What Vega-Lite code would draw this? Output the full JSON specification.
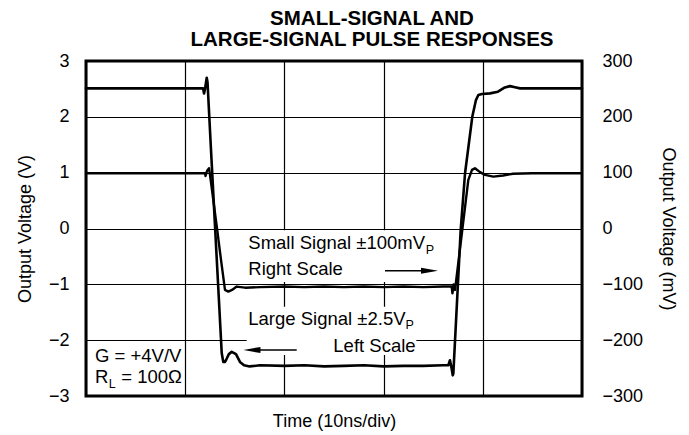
{
  "$schema": "https://vega.github.io/schema/vega-lite/v6.json",
  "width": 496,
  "height": 335,
  "autosize": {"type": "none"},
  "padding": {"left": 86, "top": 61, "right": 107, "bottom": 39},
  "background": "white",
  "title": {
    "text": ["SMALL-SIGNAL AND", "LARGE-SIGNAL PULSE RESPONSES"],
    "font": "Liberation Sans",
    "fontSize": 20.5,
    "fontWeight": "bold",
    "lineHeight": 21,
    "anchor": "middle",
    "dx": 38,
    "offset": 2,
    "color": "black"
  },
  "config": {
    "font": "Liberation Sans",
    "view": {"stroke": "black", "strokeWidth": 3},
    "axis": {
      "labelFont": "Liberation Sans",
      "labelFontSize": 18,
      "labelColor": "black",
      "titleFont": "Liberation Sans",
      "titleFontSize": 18,
      "titleFontWeight": "normal",
      "titleColor": "black",
      "gridColor": "black",
      "gridOpacity": 1,
      "gridWidth": 1.2,
      "ticks": false,
      "domain": false
    }
  },
  "datasets": {
    "large": [
      {"t": 0, "v": 2.51}, {"t": 5, "v": 2.51}, {"t": 10, "v": 2.51}, {"t": 11.8, "v": 2.51},
      {"t": 11.9, "v": 2.42}, {"t": 12.0, "v": 2.5}, {"t": 12.1, "v": 2.62}, {"t": 12.17, "v": 2.7},
      {"t": 12.25, "v": 2.62}, {"t": 12.6, "v": 1.41}, {"t": 13.0, "v": 0.06}, {"t": 13.4, "v": -1.28},
      {"t": 13.68, "v": -2.23}, {"t": 13.84, "v": -2.39}, {"t": 14.0, "v": -2.39}, {"t": 14.11, "v": -2.36},
      {"t": 14.4, "v": -2.25}, {"t": 14.69, "v": -2.21}, {"t": 15.12, "v": -2.25}, {"t": 15.52, "v": -2.39},
      {"t": 15.93, "v": -2.45}, {"t": 16.5, "v": -2.47}, {"t": 17.54, "v": -2.45}, {"t": 20, "v": -2.46},
      {"t": 22, "v": -2.45}, {"t": 24, "v": -2.47}, {"t": 26, "v": -2.46}, {"t": 28, "v": -2.45},
      {"t": 30, "v": -2.47}, {"t": 32, "v": -2.46}, {"t": 34, "v": -2.46}, {"t": 36, "v": -2.45},
      {"t": 36.52, "v": -2.45}, {"t": 36.69, "v": -2.36}, {"t": 36.85, "v": -2.5}, {"t": 36.97, "v": -2.63},
      {"t": 37.03, "v": -2.6}, {"t": 37.77, "v": -0.03}, {"t": 38.21, "v": 0.99}, {"t": 38.94, "v": 2.0},
      {"t": 39.31, "v": 2.3}, {"t": 39.55, "v": 2.39}, {"t": 39.92, "v": 2.41}, {"t": 40.73, "v": 2.42},
      {"t": 41.53, "v": 2.45}, {"t": 42.14, "v": 2.52}, {"t": 42.74, "v": 2.55}, {"t": 43.25, "v": 2.53},
      {"t": 43.75, "v": 2.51}, {"t": 47, "v": 2.51}, {"t": 50, "v": 2.51}
    ],
    "small": [
      {"t": 0, "mv": 99}, {"t": 6, "mv": 99}, {"t": 12.0, "mv": 99}, {"t": 12.05, "mv": 94},
      {"t": 12.2, "mv": 103}, {"t": 12.4, "mv": 108}, {"t": 12.5, "mv": 96}, {"t": 13.23, "mv": -3},
      {"t": 13.6, "mv": -55}, {"t": 14.01, "mv": -110}, {"t": 14.35, "mv": -113}, {"t": 14.72, "mv": -110},
      {"t": 15.19, "mv": -104}, {"t": 15.6, "mv": -105}, {"t": 16.03, "mv": -106}, {"t": 17.54, "mv": -105},
      {"t": 20, "mv": -104}, {"t": 22, "mv": -105}, {"t": 24, "mv": -104}, {"t": 26, "mv": -105},
      {"t": 28, "mv": -104}, {"t": 30, "mv": -105}, {"t": 32, "mv": -104}, {"t": 34, "mv": -105},
      {"t": 36, "mv": -104}, {"t": 36.86, "mv": -104}, {"t": 36.94, "mv": -116}, {"t": 37.05, "mv": -100},
      {"t": 37.2, "mv": -110}, {"t": 37.93, "mv": -3}, {"t": 38.54, "mv": 87}, {"t": 38.91, "mv": 105},
      {"t": 39.21, "mv": 108}, {"t": 39.72, "mv": 101}, {"t": 40.22, "mv": 96}, {"t": 41.06, "mv": 93},
      {"t": 42.04, "mv": 95}, {"t": 43.04, "mv": 98}, {"t": 45, "mv": 99}, {"t": 50, "mv": 99}
    ],
    "boxes": [
      {"t": 16.03, "t2": 35.79, "v": -0.03, "v2": -0.96},
      {"t": 16.2, "t2": 33.3, "v": -1.4, "v2": -2.266}
    ],
    "arrows": [
      {"t": 30.14, "t2": 34.68, "v": -0.756},
      {"t": 16.73, "t2": 21.24, "v": -2.176}
    ],
    "headRight": [{"t": 34.63, "v": -0.756}],
    "headLeft": [{"t": 16.73, "v": -2.176}],
    "labels": [
      {"t": 16.36, "v": -0.373, "label": "Small Signal ±100mV"},
      {"t": 16.36, "v": -0.833, "label": "Right Scale"},
      {"t": 16.36, "v": -1.729, "label": "Large Signal ±2.5V"},
      {"t": 24.93, "v": -2.207, "label": "Left Scale"},
      {"t": 0.91, "v": -2.386, "label": "G = +4V/V"},
      {"t": 0.91, "v": -2.773, "label": "R"},
      {"t": 3.55, "v": -2.773, "label": "= 100Ω"}
    ],
    "subs": [
      {"t": 34.25, "v": -0.457, "label": "P"},
      {"t": 32.2, "v": -1.8, "label": "P"},
      {"t": 2.3, "v": -2.862, "label": "L"}
    ]
  },
  "encoding": {
    "x": {
      "field": "t", "type": "quantitative",
      "scale": {"domain": [0, 50], "nice": false, "zero": false},
      "axis": {"values": [0, 10, 20, 30, 40, 50], "labels": false, "grid": true, "title": "Time (10ns/div)", "titlePadding": 16}
    }
  },
  "layer": [
    {
      "encoding": {
        "y": {
          "field": "v", "type": "quantitative",
          "scale": {"domain": [-3, 3], "nice": false, "zero": false},
          "axis": {"orient": "left", "values": [-3, -2, -1, 0, 1, 2, 3], "grid": true, "labelPadding": 17, "title": "Output Voltage (V)", "titlePadding": 14}
        }
      },
      "layer": [
        {"data": {"name": "boxes"}, "mark": {"type": "rect", "fill": "white", "stroke": null}, "encoding": {"x2": {"field": "t2"}, "y2": {"field": "v2"}}},
        {"data": {"name": "large"}, "mark": {"type": "line", "color": "black", "strokeWidth": 2.6, "strokeJoin": "round", "strokeCap": "round"}},
        {"data": {"name": "arrows"}, "mark": {"type": "rule", "color": "black", "strokeWidth": 1.5}, "encoding": {"x2": {"field": "t2"}}},
        {"data": {"name": "headRight"}, "mark": {"type": "point", "shape": "M 1 0 L -1 -0.36 L -1 0.36 Z", "filled": true, "color": "black", "opacity": 1, "size": 289}},
        {"data": {"name": "headLeft"}, "mark": {"type": "point", "shape": "M -1 0 L 1 -0.36 L 1 0.36 Z", "filled": true, "color": "black", "opacity": 1, "size": 289}},
        {"data": {"name": "labels"}, "mark": {"type": "text", "align": "left", "baseline": "alphabetic", "font": "Liberation Sans", "fontSize": 18.5, "color": "black"}, "encoding": {"text": {"field": "label"}}},
        {"data": {"name": "subs"}, "mark": {"type": "text", "align": "left", "baseline": "alphabetic", "font": "Liberation Sans", "fontSize": 12.5, "color": "black"}, "encoding": {"text": {"field": "label"}}}
      ]
    },
    {
      "data": {"name": "small"},
      "mark": {"type": "line", "color": "black", "strokeWidth": 2.4, "strokeJoin": "round", "strokeCap": "round"},
      "encoding": {
        "y": {
          "field": "mv", "type": "quantitative",
          "scale": {"domain": [-300, 300], "nice": false, "zero": false},
          "axis": {"orient": "right", "values": [-300, -200, -100, 0, 100, 200, 300], "grid": false, "labelPadding": 20, "title": "Output Voltage (mV)", "titlePadding": 16}
        }
      }
    }
  ],
  "resolve": {"scale": {"y": "independent"}}
}
